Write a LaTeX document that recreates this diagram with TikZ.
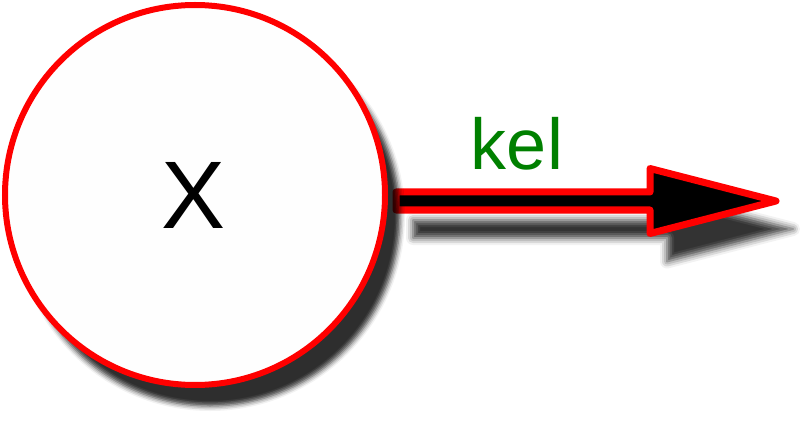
\documentclass[tikz,border=0pt]{standalone}
\usepackage{fontspec}
\setmainfont{Liberation Sans}
\usetikzlibrary{shadows.blur,calc,backgrounds}
\definecolor{ringred}{HTML}{FF0000}
\definecolor{labelgreen}{HTML}{008000}
\definecolor{nodefill}{HTML}{FEFEFE}
\tikzset{
  statenode/.style={circle, draw=ringred, line width=6pt, fill=nodefill,
    minimum size=380pt, inner sep=0pt,
    blur shadow={shadow xshift=15pt, shadow yshift=-21pt, shadow blur radius=5pt, shadow opacity=82}},
  arrowbody/.style={draw=ringred, fill=black, line width=7pt, line join=round,
    blur shadow={shadow xshift=17pt, shadow yshift=-28pt, shadow blur radius=7pt, shadow opacity=80}},
  edgelabel/.style={text=labelgreen, font=\fontsize{72}{72}\selectfont, anchor=base, inner sep=0pt},
  statelabel/.style={font=\fontsize{96}{96}\selectfont, anchor=base, inner sep=0pt}
}
\begin{document}
\begin{tikzpicture}[x=1pt,y=-1pt]
\useasboundingbox (0,0) rectangle (800,422);
\node[statenode] (c) at (195,195) {};
\coordinate (start) at ($(c.east)+(8,6)$);
\coordinate (tip) at (776,201);
\begin{scope}[on background layer]
\draw[arrowbody] ($(start)+(0,-9)$) -- ($(tip)+(-126,-9)$) -- ($(tip)+(-126,-32.5)$) -- (tip)
  -- ($(tip)+(-126,32.5)$) -- ($(tip)+(-126,9)$) -- ($(start)+(0,9)$) -- cycle;
\end{scope}
\node[statelabel] (xl) at (194,229) {X};
\node[edgelabel] (kl) at (517,170) {kel};
\end{tikzpicture}
\end{document}
